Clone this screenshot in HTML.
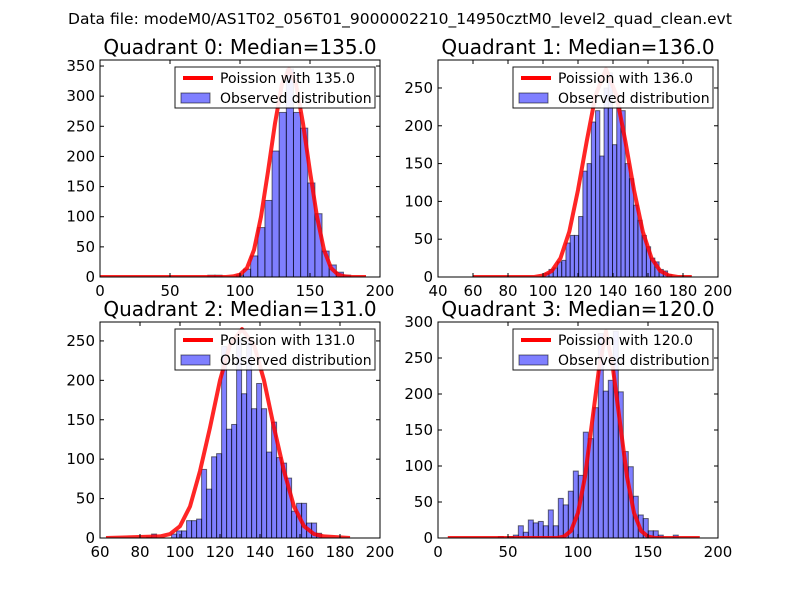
<!DOCTYPE html>
<html><head><meta charset="utf-8"><style>
html,body{margin:0;padding:0;background:#fff}
svg{display:block;font-family:"DejaVu Sans","Liberation Sans",sans-serif}
</style></head><body>
<svg id="fig" width="800" height="600" viewBox="0 0 800 600">
<rect x="0" y="0" width="800" height="600" fill="#fff"/>
<text x="400" y="24" font-size="15.5" text-anchor="middle">Data file: modeM0/AS1T02_056T01_9000002210_14950cztM0_level2_quad_clean.evt</text>
</svg>
<script>
// Quadrant 0
const q0BinStart = 77, q0BinWidth = 5.1;
const q0Counts = [3,3,0,0,3,13,35,82,127,209,273,345,273,247,156,105,43,20,8,3];
const q0LineX = [0,90,95,100,105,110,115,120,125,130,135,140,145,150,155,160,165,170,175,180,190];
const q0LineY = [0,0,1,4,15,45,100,175,255,320,345,320,255,175,100,45,15,4,1,0,0];
const q0XTicks = [0,50,100,150,200];
const q0YTicks = [0,50,100,150,200,250,300,350];
// Quadrant 1
const q1BinStart = 101, q1BinWidth = 2.42;
const q1Counts = [5,10,12,20,22,45,55,55,80,140,150,205,220,160,250,270,175,225,220,150,130,95,75,55,40,25,20,10,8,3];
const q1LineX = [60,95,100,105,110,115,120,125,130,136,142,147,152,157,162,167,172,177,185];
const q1LineY = [0,0,2,8,25,60,115,180,240,275,240,180,115,60,25,8,2,0,0];
const q1XTicks = [40,60,80,100,120,140,160,180,200];
const q1YTicks = [0,50,100,150,200,250];
// Quadrant 2
const q2BinStart = 83.3, q2BinWidth = 2.5;
const q2Counts = [1,5,0,0,0,5,9,9,22,22,24,87,62,103,107,243,138,144,252,183,252,164,196,164,109,147,102,95,76,34,44,44,19,19,6];
const q2LineX = [63,90,95,100,105,110,115,120,125,131,137,142,147,152,157,162,167,172,185];
const q2LineY = [0,2,5,15,40,85,140,200,245,265,245,200,140,85,40,15,5,2,0];
const q2XTicks = [60,80,100,120,140,160,180,200];
const q2YTicks = [0,50,100,150,200,250];
// Quadrant 3
const q3BinStart = 43.1, q3BinWidth = 3.57;
const q3Counts = [2,0,2,4,17,8,25,21,23,17,39,17,55,46,65,93,87,147,138,181,284,204,219,287,203,120,99,58,32,27,10,10,4,0,0,4];
const q3LineX = [7,85,90,95,100,105,110,115,120,125,130,135,140,145,150,155,187];
const q3LineY = [0,0,2,10,35,85,160,235,287,235,160,85,35,10,2,0,0];
const q3XTicks = [0,50,100,150,200];
const q3YTicks = [0,50,100,150,200,250,300];

const NS = "http://www.w3.org/2000/svg";
const fig = document.getElementById('fig');
function mk(tag, attrs, parent){
  const e = document.createElementNS(NS, tag);
  for (const k in attrs) e.setAttribute(k, attrs[k]);
  (parent||fig).appendChild(e);
  return e;
}
const panels = [
  {i:0, box:[100,60,380,277], xr:[0,200], ymax:360, bs:q0BinStart, bw:q0BinWidth, c:q0Counts, lx:q0LineX, ly:q0LineY, xt:q0XTicks, yt:q0YTicks, med:"135.0"},
  {i:1, box:[438,60,718,277], xr:[40,200], ymax:287, bs:q1BinStart, bw:q1BinWidth, c:q1Counts, lx:q1LineX, ly:q1LineY, xt:q1XTicks, yt:q1YTicks, med:"136.0"},
  {i:2, box:[100,322,380,538], xr:[60,200], ymax:274, bs:q2BinStart, bw:q2BinWidth, c:q2Counts, lx:q2LineX, ly:q2LineY, xt:q2XTicks, yt:q2YTicks, med:"131.0"},
  {i:3, box:[438,322,718,538], xr:[0,200], ymax:300, bs:q3BinStart, bw:q3BinWidth, c:q3Counts, lx:q3LineX, ly:q3LineY, xt:q3XTicks, yt:q3YTicks, med:"120.0"}
];
panels.forEach(p => {
  const [x0,y0,x1,y1] = p.box;
  const g = mk('g', {});
  
  
  const sx = v => x0 + (v - p.xr[0]) / (p.xr[1] - p.xr[0]) * (x1 - x0);
  const sy = v => y1 - v / p.ymax * (y1 - y0);
  const clipId = 'clip' + p.i;
  const cp = mk('clipPath', {id: clipId}, g);
  mk('rect', {x:x0, y:y0, width:x1-x0, height:y1-y0}, cp);
  const plot = mk('g', {'clip-path':'url(#'+clipId+')'}, g);
  p.c.forEach((v,k) => {
    if (v <= 0) return;
    const a = p.bs + k * p.bw;
    const bx = sx(a), bx2 = sx(a + p.bw);
    const r = mk('rect', {x:bx, y:sy(v), width:bx2-bx, height:y1-sy(v), fill:'rgba(0,0,255,0.5)', stroke:'rgba(0,0,0,0.55)', 'stroke-width':1}, plot);
    
    
  });
  const pts = p.lx.map((x,k) => sx(x).toFixed(1) + ',' + sy(p.ly[k]).toFixed(1)).join(' ');
  const line = mk('polyline', {points: pts, fill:'none', stroke:'#ff0000', 'stroke-width':4, 'stroke-opacity':0.85, 'stroke-linejoin':'round'}, plot);
  
  
  const fr = mk('rect', {x:x0, y:y0, width:x1-x0, height:y1-y0, fill:'none', stroke:'#000', 'stroke-width':1}, g);
  
  
  p.xt.forEach(t => {
    const x = sx(t);
    mk('line', {x1:x, y1:y1, x2:x, y2:y1-4, stroke:'#000'}, g);
    mk('line', {x1:x, y1:y0, x2:x, y2:y0+4, stroke:'#000'}, g);
    const tl = mk('text', {x:x, y:y1+19, 'font-size':15, 'text-anchor':'middle'}, g);
    tl.textContent = t;
    
    
  });
  p.yt.forEach(t => {
    const y = sy(t);
    mk('line', {x1:x0, y1:y, x2:x0+4, y2:y, stroke:'#000'}, g);
    mk('line', {x1:x1, y1:y, x2:x1-4, y2:y, stroke:'#000'}, g);
    const tl = mk('text', {x:x0-5, y:y+5, 'font-size':15, 'text-anchor':'end'}, g);
    tl.textContent = t;
    
    
  });
  const tt = mk('text', {x:(x0+x1)/2, y:y0-6, 'font-size':20, 'text-anchor':'middle'}, g);
  tt.textContent = 'Quadrant ' + p.i + ': Median=' + p.med;
  
  
  const lx = x1 - 205, ly = y0 + 7;
  const lg = mk('g', {}, g);
  
  
  mk('rect', {x:lx, y:ly, width:200, height:41, fill:'#fff', stroke:'#000', 'stroke-width':1, opacity:0.9}, lg);
  mk('line', {x1:lx+8, y1:ly+11, x2:lx+38, y2:ly+11, stroke:'#ff0000', 'stroke-width':4}, lg);
  const t1 = mk('text', {x:lx+45, y:ly+16, 'font-size':14}, lg);
  t1.textContent = 'Poission with ' + p.med;
  
  
  mk('rect', {x:lx+6, y:ly+26, width:29, height:10, fill:'rgba(0,0,255,0.5)', stroke:'rgba(0,0,0,0.55)'}, lg);
  const t2 = mk('text', {x:lx+45, y:ly+36, 'font-size':14}, lg);
  t2.textContent = 'Observed distribution';
  
  
});
</script>
</body></html>
